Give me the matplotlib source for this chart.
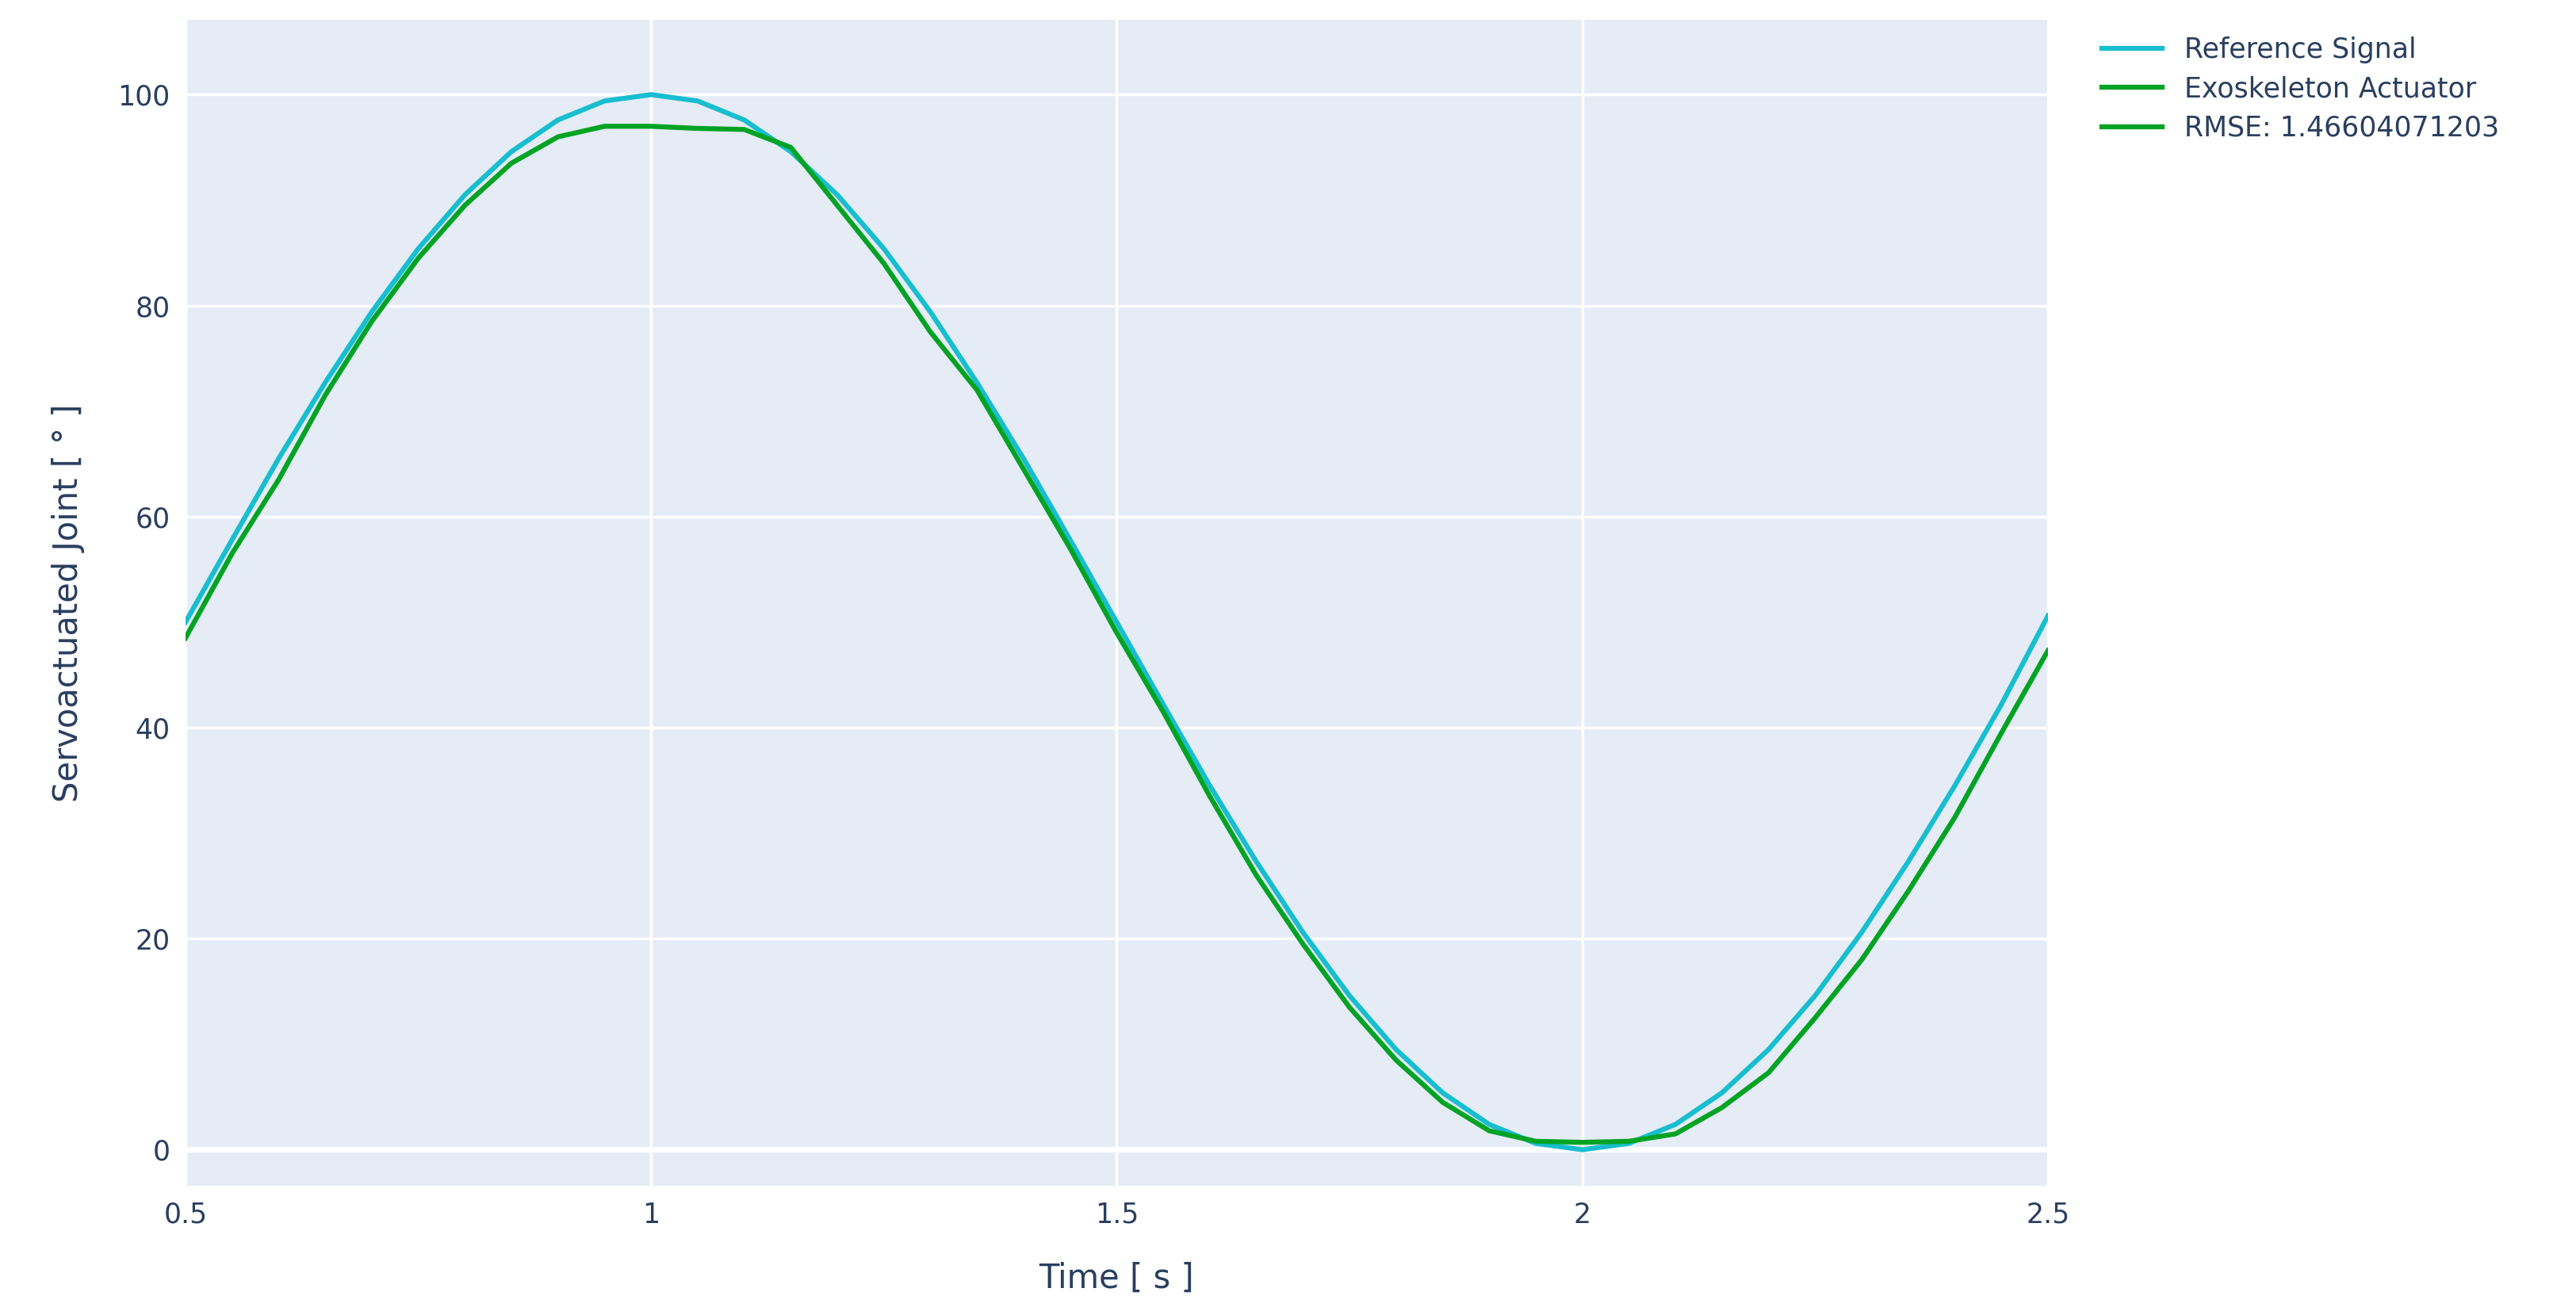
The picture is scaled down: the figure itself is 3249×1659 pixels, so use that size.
import numpy as np
import matplotlib
matplotlib.use("Agg")
import matplotlib.pyplot as plt

time = [0.5 + 0.05 * i for i in range(41)]
reference = [50, 57.8, 65.5, 72.7, 79.4, 85.4, 90.5, 94.6, 97.6, 99.4, 100, 99.4, 97.6, 94.6, 90.5,
             85.4, 79.4, 72.7, 65.5, 57.8, 50, 42.2, 34.5, 27.3, 20.6, 14.6, 9.5, 5.4, 2.4, 0.6,
             0, 0.6, 2.4, 5.4, 9.5, 14.6, 20.6, 27.3, 34.5, 42.2, 50.6]
actuator = [48.5, 56.5, 63.5, 71.5, 78.5, 84.5, 89.5, 93.5, 96.0, 97.0, 97.0, 96.8, 96.7, 95.0, 89.5,
            84.0, 77.5, 72.0, 64.5, 57.0, 49.0, 41.5, 33.5, 26.0, 19.5, 13.5, 8.5, 4.5, 1.8, 0.8,
            0.7, 0.8, 1.5, 4.0, 7.3, 12.5, 18.0, 24.5, 31.5, 39.5, 47.3]
rmse_label = "RMSE: 1.46604071203"
xticks = [0.5, 1, 1.5, 2, 2.5]
xticklabels = ["0.5", "1", "1.5", "2", "2.5"]
yticks = [0, 20, 40, 60, 80, 100]

tc = "#2a3f5f"
fig = plt.figure(figsize=(32.49, 16.59), dpi=100)
ax = fig.add_axes([0.072, 0.098, 0.723, 0.887])
ax.set_facecolor("#E5ECF6")
for s in ax.spines.values():
    s.set_visible(False)
ax.grid(True, color="white", linewidth=2.5)
ax.set_axisbelow(True)
ax.axhline(0, color="white", linewidth=5, zorder=1)
ax.plot(time, reference, color="#17BECF", linewidth=4.5, label="Reference Signal", zorder=3)
ax.plot(time, actuator, color="#00A323", linewidth=4.5, label="Exoskeleton Actuator", zorder=4)
ax.plot([], [], color="#00A323", linewidth=4.5, label=rmse_label)
ax.set_xlim(0.5, 2.5)
ax.set_ylim(-3.45, 107.1)
ax.set_xticks(xticks)
ax.set_xticklabels(xticklabels)
ax.set_yticks(yticks)
ax.tick_params(length=0, labelsize=25, colors=tc, pad=14)
ax.set_xlabel("Time [ s ]", fontsize=30, color=tc, labelpad=30)
ax.set_ylabel("Servoactuated Joint [ ° ]", fontsize=30, color=tc, labelpad=30)
leg = ax.legend(loc="upper left", bbox_to_anchor=(1.02, 1.0), frameon=False, fontsize=25,
                labelcolor=tc, handlelength=2.2, borderaxespad=0.2, labelspacing=0.45)
fig.savefig("out.png", dpi=100)
